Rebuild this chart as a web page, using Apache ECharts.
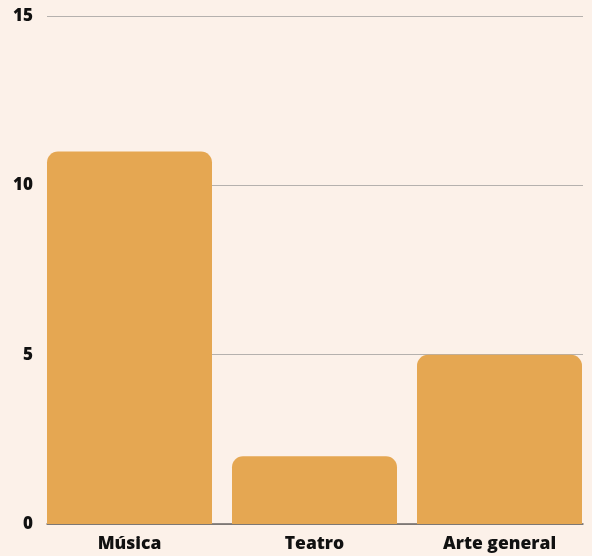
<!DOCTYPE html>
<html>
<head>
<meta charset="utf-8">
<style>
  html, body { margin: 0; padding: 0; background: #FCF1E9; }
  #chart { width: 592px; height: 556px; }
</style>
<script src="https://cdn.jsdelivr.net/npm/echarts@6/dist/echarts.min.js"></script>
</head>
<body>
<div id="chart"></div>
<script>
const categories = ['Música', 'Teatro', 'Arte general'];
const counts = [11, 2, 5];
const yTicks = [0, 5, 10, 15];

const FONT = '"Open Sans", "Noto Sans", sans-serif';
const chart = echarts.init(document.getElementById('chart'), null, { renderer: 'canvas' });

const yMin = yTicks[0];
const yMax = yTicks[yTicks.length - 1];
const yStep = yTicks[1] - yTicks[0];

chart.setOption({
  backgroundColor: '#FCF1E9',
  animation: false,
  grid: [
    // grid for the value scale, labels and gridlines
    { left: 47, right: 9, top: 16, bottom: 32 },
    // grid for the bars, slightly wider so bars reach the gridline ends
    { left: 37, right: -1, top: 16, bottom: 32 }
  ],
  xAxis: [
    {
      gridIndex: 0, type: 'category', data: categories,
      show: true,
      axisLine: { show: true, lineStyle: { color: '#6b6663', width: 1.5 } },
      axisTick: { show: false }, axisLabel: { show: false }
    },
    {
      gridIndex: 1, type: 'category', data: categories,
      axisLine: { show: false }, axisTick: { show: false },
      axisLabel: {
        margin: 11, color: '#111', fontFamily: FONT, fontWeight: 800, fontSize: 17.5
      }
    }
  ],
  yAxis: [
    {
      gridIndex: 0, type: 'value', min: yMin, max: yMax, interval: yStep,
      axisLine: { show: false }, axisTick: { show: false },
      axisLabel: {
        margin: 14, color: '#111', fontFamily: FONT, fontWeight: 800, fontSize: 17
      },
      splitLine: { show: true, lineStyle: { color: '#b5b1ae', width: 1 } }
    },
    {
      gridIndex: 1, type: 'value', min: yMin, max: yMax, interval: yStep,
      show: false, splitLine: { show: false }
    }
  ],
  series: [
    {
      type: 'bar',
      xAxisIndex: 1, yAxisIndex: 1,
      data: counts,
      barWidth: 165,
      itemStyle: { color: '#E5A752', borderRadius: [11, 11, 0, 0] },
      z: 1
    }
  ]
});
</script>
</body>
</html>
